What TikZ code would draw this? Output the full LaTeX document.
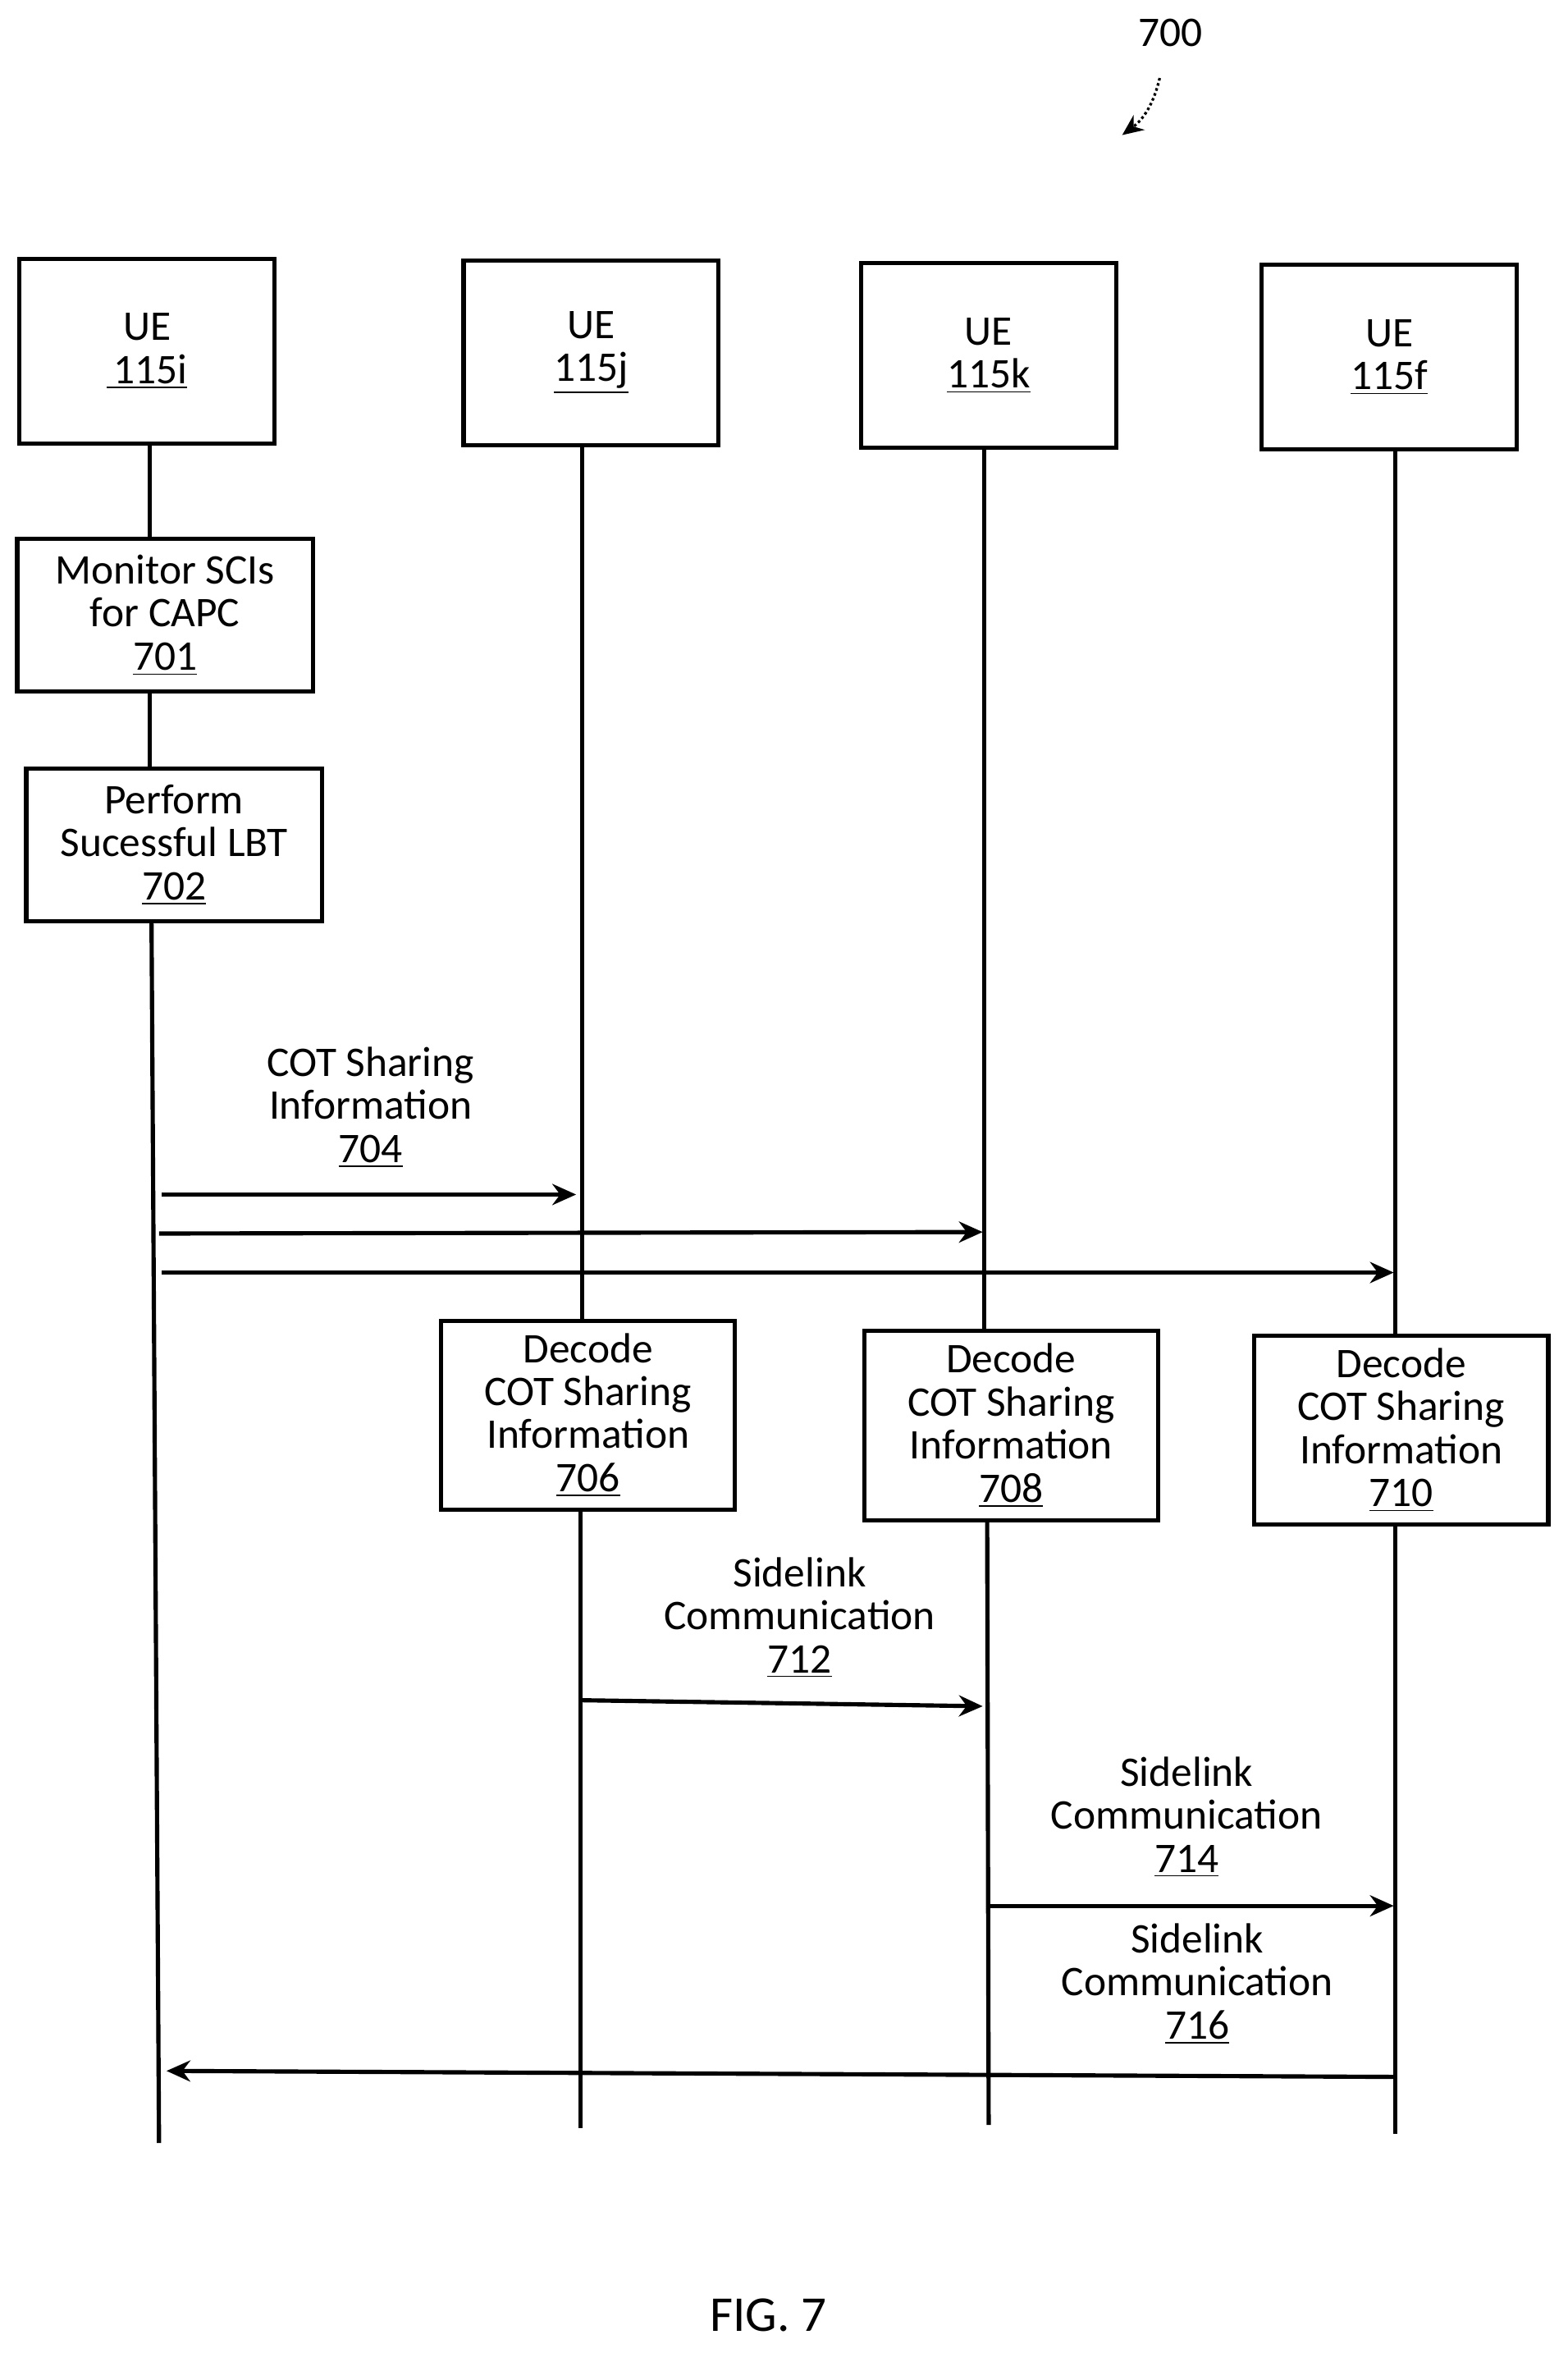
\documentclass[tikz,border=0pt]{standalone}
\usepackage{fontspec}
\setmainfont{Carlito}
\usetikzlibrary{positioning,arrows.meta}

\tikzset{
  ue/.style={draw, line width=1.6pt, minimum width=3.4cm, minimum height=2.46cm, align=center, inner sep=0pt},
  action/.style={draw, line width=1.6pt, minimum width=3.94cm, minimum height=2.04cm, align=center, inner sep=0pt},
  decode/.style={draw, line width=1.6pt, minimum width=3.92cm, minimum height=2.52cm, align=center, inner sep=0pt},
  life/.style={line width=1.6pt},
  msg/.style={line width=1.6pt, -{Stealth[length=9pt,width=8pt]}},
  lbl/.style={align=center, inner sep=0pt}
}

\begin{document}
\begin{tikzpicture}[x=0.02cm, y=-0.02cm, font=\fontsize{16pt}{16.3pt}\selectfont]
\useasboundingbox (0,0) rectangle (1045,1568);

% UE boxes
\node[ue] (uei) at (98,234) {UE\\ \underline{\,115i}};
\node[ue] (uej) at (394,235) {UE\\ \underline{115j}};
\node[ue] (uek) at (659,237) {UE\\ \underline{115k}};
\node[ue] (uef) at (926,238) {UE\\ \underline{115f}};

% lifeline ends
\coordinate (endi) at (106,1428);
\coordinate (endj) at (387,1418);
\coordinate (endk) at (659,1416);
\coordinate (endf) at (930,1422);

% steps on UE 115i
\node[action] (s701) at (110,410) {Monitor SCIs\\for CAPC\\\underline{701}};
\node[action] (s702) at (116,563) {Perform\\Sucessful LBT\\\underline{702}};

% decode boxes
\node[decode] (s706) at (392,943) {Decode\\COT Sharing\\Information\\\underline{706}};
\node[decode] (s708) at (674,950) {Decode\\COT Sharing\\Information\\\underline{708}};
\node[decode] (s710) at (934,953) {Decode\\COT Sharing\\Information\\\underline{710}};

% lifelines
\draw[life] (uei.south -| 100,0) -- (s701.north -| 100,0);
\draw[life] (s701.south -| 100,0) -- (s702.north -| 100,0);
\draw[life] (s702.south -| 101,0) -- (endi);
\draw[life] (uej.south -| 388,0) -- (s706.north -| 388,0);
\draw[life] (s706.south -| 387,0) -- (endj);
\draw[life] (uek.south -| 656,0) -- (s708.north -| 656,0);
\draw[life] (s708.south -| 658,0) -- (endk);
\draw[life] (uef.south -| 930,0) -- (s710.north -| 930,0);
\draw[life] (s710.south -| 930,0) -- (endf);

% messages
\coordinate (a1) at (108,796); \coordinate (b1) at (384,796);
\coordinate (a2) at (106,822); \coordinate (b2) at (655,821);
\coordinate (a3) at (108,848); \coordinate (b3) at (929,848);
\draw[msg] (a1) -- (b1);
\draw[msg] (a2) -- (b2);
\draw[msg] (a3) -- (b3);
\node[lbl] (m704) at (247,738) {COT Sharing\\Information\\\underline{704}};

\coordinate (a4) at (388,1133); \coordinate (b4) at (655,1137);
\draw[msg] (a4) -- (b4);
\node[lbl] (m712) at (533,1078) {Sidelink\\Communication\\\underline{712}};

\coordinate (a5) at (658,1270); \coordinate (b5) at (929,1270);
\draw[msg] (a5) -- (b5);
\node[lbl] (m714) at (791,1211) {Sidelink\\Communication\\\underline{714}};

\coordinate (a6) at (929,1384); \coordinate (b6) at (111,1380);
\draw[msg] (a6) -- (b6);
\node[lbl] (m716) at (798,1322) {Sidelink\\Communication\\\underline{716}};

% figure reference
\node[lbl] (ref) at (780,22) {700};
\coordinate (refend) at (748,90);
\draw[line width=1pt, densely dotted, -{Stealth[length=8pt,width=7pt]}] (773,52) to[bend left=20] (refend);

\node[lbl, font=\fontsize{19pt}{20pt}\selectfont] (fig) at (512,1543) {FIG. 7};
\end{tikzpicture}
\end{document}
